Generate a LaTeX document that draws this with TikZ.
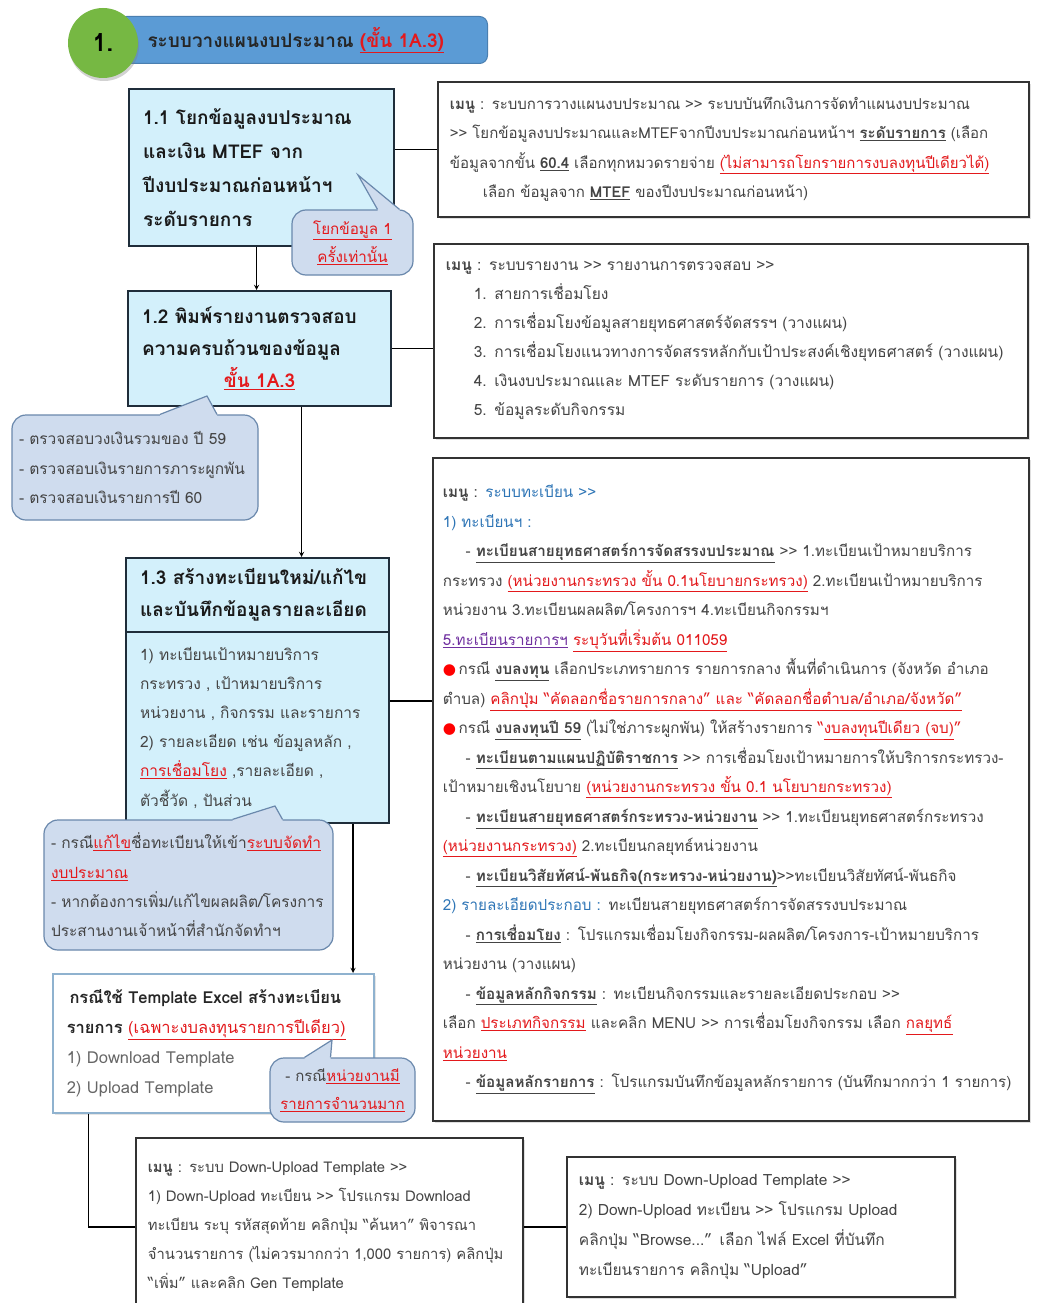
\documentclass[tikz,border=0pt]{standalone}
\usepackage{fontspec}
\setmainfont{Loma}[Script=Thai]
\newfontfamily\dotfont{DejaVu Sans}
\usetikzlibrary{positioning,shadows}

\definecolor{boxfill}{HTML}{D3F0FB}
\definecolor{boxline}{HTML}{1F2D3A}
\definecolor{callfill}{HTML}{CFDCEE}
\definecolor{callline}{HTML}{6A88AC}
\definecolor{banner}{HTML}{5B9BD5}
\definecolor{bannerline}{HTML}{4A7FB0}
\definecolor{ballgreen}{HTML}{76B843}
\definecolor{txtred}{HTML}{E3191C}
\definecolor{txtblue}{HTML}{2E75B6}
\definecolor{txtpurple}{HTML}{7030A0}
\definecolor{txtgray}{HTML}{444444}
\definecolor{tplline}{HTML}{8FB2CF}

\newcommand{\redul}[1]{\textcolor{txtred}{\underline{#1}}}
\newcommand{\boldul}[1]{\textbf{\underline{#1}}}
\newcommand{\gtgt}{>\kern0pt>}
\newcommand{\reddot}{{\dotfont\textcolor{red}{●}}\,}

\begin{document}
\begin{tikzpicture}[x=1pt,y=-1pt,>=stealth,
    stepbox/.style={draw=boxline,line width=2.2pt,fill=boxfill,anchor=north west,
        align=left,inner xsep=14pt,text=black!90,font=\fontsize{19}{34}\selectfont\bfseries},
    menubox/.style={draw=black!80,line width=1.8pt,fill=white,anchor=north west,align=left,
        inner xsep=12pt,text=txtgray,font=\fontsize{15}{29.5}\selectfont,
        drop shadow={opacity=0.25,shadow xshift=2pt,shadow yshift=-2pt}},
    callbox/.style={draw=callline,line width=1.2pt,fill=callfill,rounded corners=14pt,
        inner xsep=7pt,text=txtgray,font=\fontsize{15.5}{29.3}\selectfont},
    link/.style={line width=1.3pt}]
\useasboundingbox (0,0) rectangle (1039,1303);
\fill[white] (0,0) rectangle (1039,1303);

% heading
\node[draw=bannerline,line width=1pt,fill=banner,rounded corners=8pt,anchor=north west,
    minimum width=369pt,minimum height=47pt,inner xsep=29pt,text width=311pt,align=left,
    font=\fontsize{19}{20}\selectfont\bfseries,text=black!85]
    (ban) at (118,16) {ระบบวางแผนงบประมาณ \redul{(ขั้น 1A.3)}};
\node[circle,fill=ballgreen,minimum size=70pt,font=\fontsize{25}{28}\selectfont\bfseries,
    drop shadow={opacity=0.35,shadow xshift=1pt,shadow yshift=-3pt}]
    (ball) at (103,43) {1.};

% steps
\node[stepbox,minimum width=265pt,minimum height=157pt,text width=237pt] (s11) at (128,88)
    {1.1 โยกข้อมูลงบประมาณ\\และเงิน MTEF จาก\\ปีงบประมาณก่อนหน้าฯ\\ระดับรายการ};
\node[stepbox,minimum width=263pt,minimum height=115pt,text width=235pt,
    font=\fontsize{19}{32}\selectfont\bfseries] (s12) at (127,290)
    {1.2 พิมพ์รายงานตรวจสอบ\\ความครบถ้วนของข้อมูล\\\makebox[\linewidth]{\redul{ขั้น 1A.3}}};
\node[stepbox,minimum width=263pt,minimum height=74pt,text width=235pt,
    font=\fontsize{19}{32}\selectfont\bfseries] (s13h) at (125,557)
    {1.3 สร้างทะเบียนใหม่/แก้ไข\\และบันทึกข้อมูลรายละเอียด};
\node[stepbox,minimum width=263pt,minimum height=191pt,text width=235pt,text=txtgray,
    font=\fontsize{15.5}{29.2}\selectfont] (s13b) at (125,631)
    {1) ทะเบียนเป้าหมายบริการ\\กระทรวง , เป้าหมายบริการ\\หน่วยงาน , กิจกรรม และรายการ\\
     2) รายละเอียด เช่น ข้อมูลหลัก ,\\\redul{การเชื่อมโยง} ,รายละเอียด ,\\ตัวชี้วัด , ปันส่วน};
\node[draw=tplline,line width=1.5pt,fill=white,anchor=north west,align=left,
    minimum width=321pt,minimum height=139pt,inner xsep=14pt,text width=293pt,
    font=\fontsize{16.5}{30}\selectfont,text=black!85,
    drop shadow={opacity=0.2,shadow xshift=2pt,shadow yshift=-2pt}] (tpl) at (52,973)
    {\textbf{\,กรณีใช้ Template Excel สร้างทะเบียน}\\
     \textbf{รายการ} \redul{(เฉพาะงบลงทุนรายการปีเดียว)}\\
     \textcolor{black!60}{1) Download Template}\\
     \textcolor{black!60}{2) Upload Template}};

% menus
\node[menubox,minimum width=591pt,minimum height=135pt,text width=567pt] (m1) at (437,81)
    {\textbf{เมนู} : ระบบการวางแผนงบประมาณ \gtgt{} ระบบบันทึกเงินการจัดทำแผนงบประมาณ\\
     \gtgt{} โยกข้อมูลงบประมาณและMTEFจากปีงบประมาณก่อนหน้าฯ \boldul{ระดับรายการ} (เลือก\\
     ข้อมูลจากขั้น \boldul{60.4} เลือกทุกหมวดรายจ่าย \redul{(ไม่สามารถโยกรายการงบลงทุนปีเดียวได้)}\\
     \hspace*{2.2em}เลือก ข้อมูลจาก \boldul{MTEF} ของปีงบประมาณก่อนหน้า)};
\node[menubox,minimum width=594pt,minimum height=194pt,text width=570pt,
    font=\fontsize{15.5}{29}\selectfont] (m2) at (433,243)
    {\textbf{เมนู} : ระบบรายงาน \gtgt{} รายงานการตรวจสอบ \gtgt\\
     \hspace*{1.8em}1. สายการเชื่อมโยง\\
     \hspace*{1.8em}2. การเชื่อมโยงข้อมูลสายยุทธศาสตร์จัดสรรฯ (วางแผน)\\
     \hspace*{1.8em}3. การเชื่อมโยงแนวทางการจัดสรรหลักกับเป้าประสงค์เชิงยุทธศาสตร์ (วางแผน)\\
     \hspace*{1.8em}4. เงินงบประมาณและ MTEF ระดับรายการ (วางแผน)\\
     \hspace*{1.8em}5. ข้อมูลระดับกิจกรรม};
\node[menubox,minimum width=596pt,minimum height=663pt,text width=576pt,inner xsep=10pt,
    font=\fontsize{15.2}{29.5}\selectfont] (m5) at (432,457)
    {\textbf{เมนู} : \textcolor{txtblue}{ระบบทะเบียน \gtgt}\\
     \textcolor{txtblue}{1) ทะเบียนฯ :}\\
     \hspace*{1.5em}- \boldul{ทะเบียนสายยุทธศาสตร์การจัดสรรงบประมาณ} \gtgt{} 1.ทะเบียนเป้าหมายบริการ\\
     กระทรวง \redul{(หน่วยงานกระทรวง ขั้น 0.1นโยบายกระทรวง)} 2.ทะเบียนเป้าหมายบริการ\\
     หน่วยงาน 3.ทะเบียนผลผลิต/โครงการฯ 4.ทะเบียนกิจกรรมฯ\\
     \textcolor{txtpurple}{\underline{5.ทะเบียนรายการฯ}} \redul{ระบุวันที่เริ่มต้น 011059}\\
     \reddot กรณี \boldul{งบลงทุน} เลือกประเภทรายการ รายการกลาง พื้นที่ดำเนินการ (จังหวัด อำเภอ\\
     ตำบล) \redul{คลิกปุ่ม “คัดลอกชื่อรายการกลาง” และ “คัดลอกชื่อตำบล/อำเภอ/จังหวัด”}\\
     \reddot กรณี \boldul{งบลงทุนปี 59} (ไม่ใช่ภาระผูกพัน) ให้สร้างรายการ \textcolor{txtred}{“\underline{งบลงทุนปีเดียว (จบ)}”}\\
     \hspace*{1.5em}- \boldul{ทะเบียนตามแผนปฏิบัติราชการ} \gtgt{} การเชื่อมโยงเป้าหมายการให้บริการกระทรวง-\\
     เป้าหมายเชิงนโยบาย \redul{(หน่วยงานกระทรวง ขั้น 0.1 นโยบายกระทรวง)}\\
     \hspace*{1.5em}- \boldul{ทะเบียนสายยุทธศาสตร์กระทรวง-หน่วยงาน} \gtgt{} 1.ทะเบียนยุทธศาสตร์กระทรวง\\
     \redul{(หน่วยงานกระทรวง)} 2.ทะเบียนกลยุทธ์หน่วยงาน\\
     \hspace*{1.5em}- \boldul{ทะเบียนวิสัยทัศน์-พันธกิจ(กระทรวง-หน่วยงาน)}\gtgt ทะเบียนวิสัยทัศน์-พันธกิจ\\
     \textcolor{txtblue}{2) รายละเอียดประกอบ :} ทะเบียนสายยุทธศาสตร์การจัดสรรงบประมาณ\\
     \hspace*{1.5em}- \boldul{การเชื่อมโยง} : โปรแกรมเชื่อมโยงกิจกรรม-ผลผลิต/โครงการ-เป้าหมายบริการ\\
     หน่วยงาน (วางแผน)\\
     \hspace*{1.5em}- \boldul{ข้อมูลหลักกิจกรรม} : ทะเบียนกิจกรรมและรายละเอียดประกอบ \gtgt\\
     เลือก \redul{ประเภทกิจกรรม} และคลิก MENU \gtgt{} การเชื่อมโยงกิจกรรม เลือก \redul{กลยุทธ์}\\
     \redul{หน่วยงาน}\\
     \hspace*{1.5em}- \boldul{ข้อมูลหลักรายการ} : โปรแกรมบันทึกข้อมูลหลักรายการ (บันทึกมากกว่า 1 รายการ)};
\node[menubox,minimum width=387pt,minimum height=178pt,text width=363pt,
    font=\fontsize{14.8}{29}\selectfont] (m3) at (135,1137)
    {\textbf{เมนู} : ระบบ Down-Upload Template \gtgt\\
     1) Down-Upload ทะเบียน \gtgt{} โปรแกรม Download\\
     ทะเบียน ระบุ รหัสสุดท้าย คลิกปุ่ม “ค้นหา” พิจารณา\\
     จำนวนรายการ (ไม่ควรมากกว่า 1,000 รายการ) คลิกปุ่ม\\
     “เพิ่ม” และคลิก Gen Template};
\node[menubox,minimum width=388pt,minimum height=140pt,text width=364pt,
    font=\fontsize{15.5}{30}\selectfont] (m4) at (566,1156)
    {\textbf{เมนู} : ระบบ Down-Upload Template \gtgt\\
     2) Down-Upload ทะเบียน \gtgt{} โปรแกรม Upload\\
     คลิกปุ่ม “Browse...” เลือก ไฟล์ Excel ที่บันทึก\\
     ทะเบียนรายการ คลิกปุ่ม “Upload”};

% callouts
\node[callbox,minimum width=121pt,minimum height=65pt,align=center,
    font=\fontsize{15.2}{28}\selectfont] (c11) at (352.5,242.5)
    {\redul{โยกข้อมูล 1}\\\redul{ครั้งเท่านั้น}};
\coordinate (c11tip) at (358,175);
\fill[callfill] ([xshift=25pt]c11.north) -- (c11tip) -- ([xshift=47pt]c11.north)
    -- ([xshift=47pt,yshift=-2pt]c11.north) -- ([xshift=25pt,yshift=-2pt]c11.north) -- cycle;
\draw[callline,line width=1.2pt] ([xshift=25pt]c11.north) -- (c11tip) -- ([xshift=47pt]c11.north);

\node[callbox,minimum width=246pt,minimum height=105pt,text width=232pt,align=left] (c12) at (135,467.5)
    {- ตรวจสอบวงเงินรวมของ ปี 59\\- ตรวจสอบเงินรายการภาระผูกพัน\\- ตรวจสอบเงินรายการปี 60};
\coordinate (c12tip) at (207,396);
\fill[callfill] ([xshift=25pt]c12.north) -- (c12tip) -- ([xshift=82pt]c12.north)
    -- ([xshift=82pt,yshift=-2pt]c12.north) -- ([xshift=25pt,yshift=-2pt]c12.north) -- cycle;
\draw[callline,line width=1.2pt] ([xshift=25pt]c12.north) -- (c12tip) -- ([xshift=82pt]c12.north);

\node[callbox,minimum width=289pt,minimum height=130pt,text width=275pt,align=left] (c13) at (188.5,885)
    {- กรณี\redul{แก้ไข}ชื่อทะเบียนให้เข้า\redul{ระบบจัดทำ}\\\redul{งบประมาณ}\\
     - หากต้องการเพิ่ม/แก้ไขผลผลิต/โครงการ\\ประสานงานเจ้าหน้าที่สำนักจัดทำฯ};
\coordinate (c13tip) at (275,806);
\fill[callfill] ([xshift=44pt]c13.north) -- (c13tip) -- ([xshift=94pt]c13.north)
    -- ([xshift=94pt,yshift=-2pt]c13.north) -- ([xshift=44pt,yshift=-2pt]c13.north) -- cycle;
\draw[callline,line width=1.2pt] ([xshift=44pt]c13.north) -- (c13tip) -- ([xshift=94pt]c13.north);

\node[callbox,minimum width=145pt,minimum height=64pt,align=center,
    font=\fontsize{15}{28}\selectfont] (ctpl) at (342.5,1090)
    {- กรณี\redul{หน่วยงานมี}\\\redul{รายการจำนวนมาก}};
\coordinate (ctpltip) at (332,1040);
\fill[callfill] ([xshift=-38pt]ctpl.north) -- (ctpltip) -- ([xshift=-12pt]ctpl.north)
    -- ([xshift=-12pt,yshift=-2pt]ctpl.north) -- ([xshift=-38pt,yshift=-2pt]ctpl.north) -- cycle;
\draw[callline,line width=1.2pt] ([xshift=-38pt]ctpl.north) -- (ctpltip) -- ([xshift=-12pt]ctpl.north);

% connectors
\draw[link,->] ([xshift=-5pt]s11.south) -- ([xshift=-5pt]s11.south |- s12.north);
\draw[link,->] ([xshift=42pt]s12.south) -- ([xshift=42pt]s12.south |- s13h.north);
\draw[link,->] ([xshift=95.5pt]s13b.south) -- ([xshift=95.5pt]s13b.south |- tpl.north);
\draw[link] ([xshift=-124.5pt]tpl.south) |- (m3.west);
\draw[link] (s11.east |- m1.west) -- (m1.west);
\draw[link] (s12.east) -- (s12.east -| m2.west);
\draw[link] ([yshift=26.5pt]s13b.east) -- ([yshift=26.5pt]s13b.east -| m5.west);
\draw[link] (m3.east) -- (m4.west);
\end{tikzpicture}
\end{document}
